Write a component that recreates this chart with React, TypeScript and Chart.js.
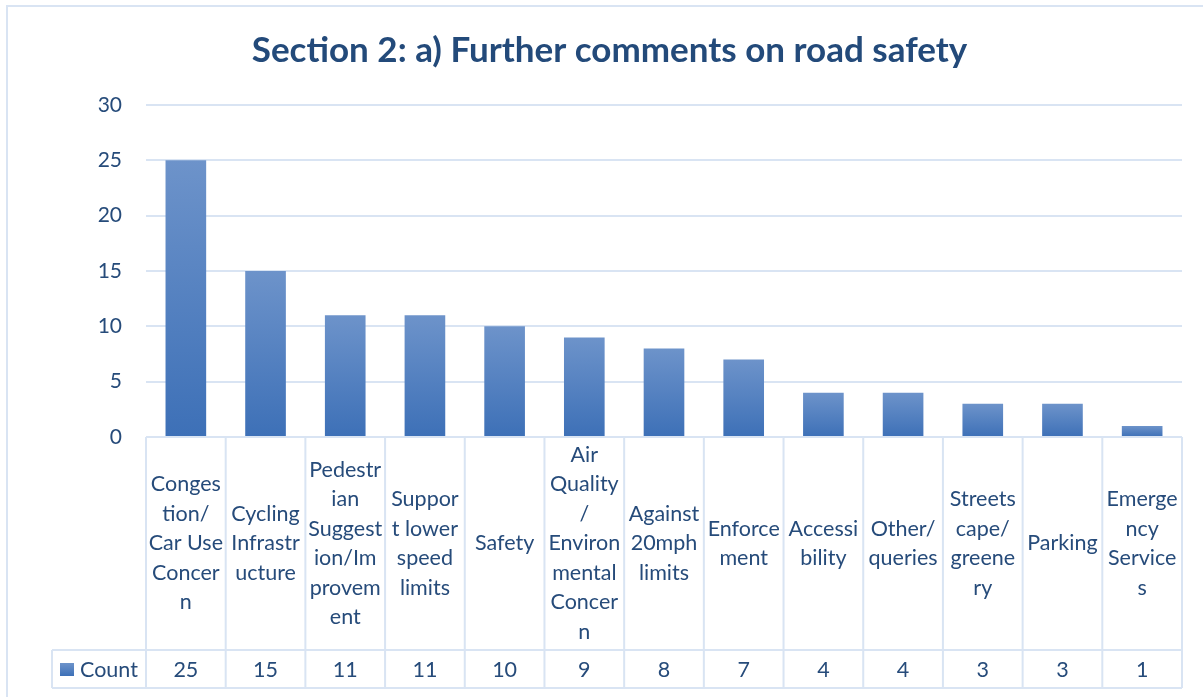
import React, { useEffect, useRef } from "react";
import { Chart, registerables } from "chart.js";

Chart.register(...registerables);

const TITLE = "Section 2: a) Further comments on road safety";
const SERIES_NAME = "Count";
const CATEGORY_LINES: string[][] = [
  ["Conges", "tion/", "Car Use", "Concer", "n"],
  ["Cycling", "Infrastr", "ucture"],
  ["Pedestr", "ian", "Suggest", "ion/Im", "provem", "ent"],
  ["Suppor", "t lower", "speed", "limits"],
  ["Safety"],
  ["Air", "Quality", "/", "Environ", "mental", "Concer", "n"],
  ["Against", "20mph", "limits"],
  ["Enforce", "ment"],
  ["Accessi", "bility"],
  ["Other/", "queries"],
  ["Streets", "cape/", "greene", "ry"],
  ["Parking"],
  ["Emerge", "ncy", "Service", "s"],
];
const COUNTS: number[] = [25, 15, 11, 11, 10, 9, 8, 7, 4, 4, 3, 3, 1];
const Y_MAX = 30;
const Y_STEP = 5;

const TEXT = "#264b7a";
const LINE = "#d9e4f3";
const FONT = "Lato, 'Open Sans', sans-serif";

function barGradient(c: CanvasRenderingContext2D, top: number, bottom: number) {
  const g = c.createLinearGradient(0, top, 0, bottom);
  g.addColorStop(0, "#6d93ca");
  g.addColorStop(1, "#3d70b7");
  return g;
}

const tablePlugin = {
  id: "excelTable",
  beforeDraw(chart: any) {
    const c = chart.ctx as CanvasRenderingContext2D;
    c.save();
    c.fillStyle = "#ffffff";
    c.fillRect(0, 0, chart.width, chart.height);
    c.strokeStyle = LINE;
    c.lineWidth = 2;
    c.beginPath();
    c.moveTo(7, 697);
    c.lineTo(7, 6);
    c.lineTo(1203, 6);
    c.stroke();
    c.restore();
  },
  afterDraw(chart: any) {
    const c = chart.ctx as CanvasRenderingContext2D;
    const area = chart.chartArea;
    const xs = chart.scales.x;
    const n = CATEGORY_LINES.length;
    const cat = (area.right - area.left) / n;
    const tableTop = area.bottom;
    const rowTop = 650;
    const tableBottom = 688;
    const leftCell = 52;
    c.save();
    // title
    c.fillStyle = "#234a7a";
    c.font = `bold 35px ${FONT}`;
    c.textAlign = "center";
    c.textBaseline = "middle";
    c.fillText(TITLE, 609.5, 51);
    // table lines
    c.strokeStyle = LINE;
    c.lineWidth = 2;
    c.beginPath();
    for (let i = 0; i <= n; i++) {
      const x = area.left + i * cat;
      c.moveTo(x, tableTop);
      c.lineTo(x, tableBottom);
    }
    c.moveTo(leftCell, rowTop);
    c.lineTo(area.right, rowTop);
    c.moveTo(leftCell, tableBottom);
    c.lineTo(area.right, tableBottom);
    c.moveTo(leftCell, rowTop);
    c.lineTo(leftCell, tableBottom);
    c.stroke();
    // category labels
    c.fillStyle = TEXT;
    c.font = `21.5px ${FONT}`;
    c.textAlign = "center";
    c.textBaseline = "middle";
    const lh = 29.5;
    const midY = (tableTop + rowTop) / 2;
    CATEGORY_LINES.forEach((lines, i) => {
      const cx = xs.getPixelForValue(i);
      const start = midY - ((lines.length - 1) * lh) / 2;
      lines.forEach((ln, j) => c.fillText(ln, cx, start + j * lh));
    });
    // values row
    const rowMid = (rowTop + tableBottom) / 2 + 1;
    COUNTS.forEach((v, i) => {
      c.fillText(String(v), xs.getPixelForValue(i), rowMid);
    });
    // legend key
    c.fillStyle = barGradient(c, 663, 676);
    c.fillRect(60, 663, 14, 13);
    c.fillStyle = TEXT;
    c.textAlign = "left";
    c.fillText(SERIES_NAME, 80, rowMid);
    c.restore();
  },
};

export default function App() {
  const ref = useRef<HTMLCanvasElement>(null);
  useEffect(() => {
    if (!ref.current) return;
    const chart = new Chart(ref.current, {
      type: "bar",
      data: {
        labels: CATEGORY_LINES.map((l) => l.join("")),
        datasets: [
          {
            label: SERIES_NAME,
            data: COUNTS,
            categoryPercentage: 1,
            barPercentage: 0.51,
            backgroundColor: (ctx: any) => {
              const chart = ctx.chart;
              if (!chart.chartArea || ctx.type !== "data") return "#5583c1";
              const y = chart.scales.y;
              const top = y.getPixelForValue(ctx.raw);
              const bottom = y.getPixelForValue(0);
              return barGradient(chart.ctx, top, bottom);
            },
          },
        ],
      },
      options: {
        animation: false,
        responsive: false,
        maintainAspectRatio: false,
        layout: { padding: { top: 105, bottom: 260, left: 0, right: 21 } },
        plugins: {
          legend: { display: false },
          title: { display: false },
          tooltip: { enabled: false },
        },
        scales: {
          x: { display: false },
          y: {
            min: 0,
            max: Y_MAX,
            ticks: {
              stepSize: Y_STEP,
              color: TEXT,
              font: { family: FONT, size: 21 },
              padding: 24,
            },
            grid: { color: LINE, lineWidth: 2, drawTicks: false },
            border: { display: false },
            afterFit: (s: any) => {
              s.width = 146;
            },
          },
        },
      },
      plugins: [tablePlugin],
    });
    return () => chart.destroy();
  }, []);
  return (
    <div style={{ position: "fixed", left: 0, top: 0, width: 1203, height: 697, background: "#fff" }}>
      <canvas ref={ref} width={1203} height={697} style={{ width: 1203, height: 697 }} />
    </div>
  );
}
